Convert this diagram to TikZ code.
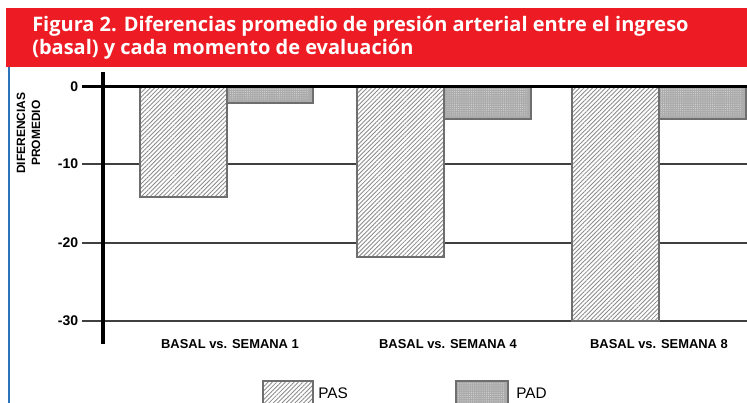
\documentclass[tikz,border=0pt]{standalone}
\usepackage{fontspec}
\setmainfont{Liberation Sans}
\newfontfamily\titlefont{Open Sans}
\usetikzlibrary{patterns.meta}
\definecolor{hdrred}{RGB}{237,28,36}
\definecolor{edgeblue}{RGB}{45,115,185}
\definecolor{baredge}{RGB}{110,110,110}
\tikzset{
  gridline/.style={draw=black!75, line width=0.9pt},
  zeroline/.style={draw=black, line width=2.2pt},
  pashatch/.style={pattern={Lines[angle=45,distance=2.3pt,line width=0.65pt]}, pattern color=black!45},
  padfill/.style={fill=black!33},
  paddots/.style={pattern={Dots[distance=1.6pt,radius=0.35pt]}, pattern color=black!12},
  baredgestyle/.style={draw=baredge, line width=0.8pt},
  ticklbl/.style={anchor=east, inner sep=0pt, font=\bfseries\fontsize{10.5}{12}\selectfont},
  catlbl/.style={inner sep=0pt, font=\bfseries\fontsize{9.7}{11}\selectfont},
  ylbl/.style={rotate=90, inner sep=0pt, font=\bfseries\fontsize{9}{10}\selectfont},
  leglbl/.style={anchor=west, inner sep=0pt, font=\fontsize{11.5}{13}\selectfont},
  ttl/.style={anchor=base west, inner sep=0pt, text=white, font=\titlefont\bfseries\fontsize{15}{17}\selectfont},
}
\begin{document}
\begin{tikzpicture}[x=0.75pt,y=-0.75pt]
\useasboundingbox (0,0) rectangle (747,403);
\fill[white] (0,0) rectangle (747,403);
% header
\fill[hdrred] (6,8) rectangle (747,67.5);
\node[ttl] (title1) at (32,31.5) {Figura 2. Diferencias promedio de presión arterial entre el ingreso};
\node[ttl] (title2) at (32,55) {(basal) y cada momento de evaluación};
% left blue rule
\draw[edgeblue, line width=1.3pt] (9,67.5) -- (9,403);
% grid lines
\draw[gridline] (82,164) -- (747,164);
\draw[gridline] (82,243) -- (747,243);
\draw[gridline] (82,321) -- (747,321);
% bars PAS
\foreach \xa/\xb/\yb in {140/227/197, 357/444/257, 572/659/321}{
  \fill[white] (\xa,87) rectangle (\xb,\yb);
  \path[pashatch] (\xa,87) rectangle (\xb,\yb);
  \draw[baredgestyle] (\xa,87) rectangle (\xb,\yb);
}
% bars PAD
\foreach \xa/\xb/\yb in {227/313/103, 444/531/119, 659/746/119}{
  \fill[padfill] (\xa,87) rectangle (\xb,\yb);
  \path[paddots] (\xa+2,89) rectangle (\xb-4,\yb-3);
  \draw[baredgestyle] (\xa,87) rectangle (\xb,\yb);
}
% axes
\draw[zeroline] (82,86.5) -- (747,86.5);
\draw[black, line width=2.6pt] (103,72) -- (103,344);
% tick labels
\node[ticklbl] (t0) at (78.5,87) {0};
\node[ticklbl] (t10) at (78.5,164) {-10};
\node[ticklbl] (t20) at (78.5,243) {-20};
\node[ticklbl] (t30) at (78.5,321) {-30};
% y title
\node[ylbl] (ylab1) at (21,133) {DIFERENCIAS};
\node[ylbl] (ylab2) at (36,133) {PROMEDIO};
% category labels
\node[catlbl] (c1) at (230,344.5) {BASAL vs. SEMANA 1};
\node[catlbl] (c2) at (448,344.5) {BASAL vs. SEMANA 4};
\node[catlbl] (c3) at (659,344.5) {BASAL vs. SEMANA 8};
% legend
\fill[white] (263,381) rectangle (313,410);
\path[pashatch] (263,381) rectangle (313,410);
\draw[baredgestyle] (263,381) rectangle (313,410);
\node[leglbl] (lpas) at (318,393) {PAS};
\fill[padfill] (456,381) rectangle (508,410);
\path[paddots] (458,383) rectangle (504,410);
\draw[baredgestyle] (456,381) rectangle (508,410);
\node[leglbl] (lpad) at (516,393) {PAD};
\end{tikzpicture}
\end{document}
